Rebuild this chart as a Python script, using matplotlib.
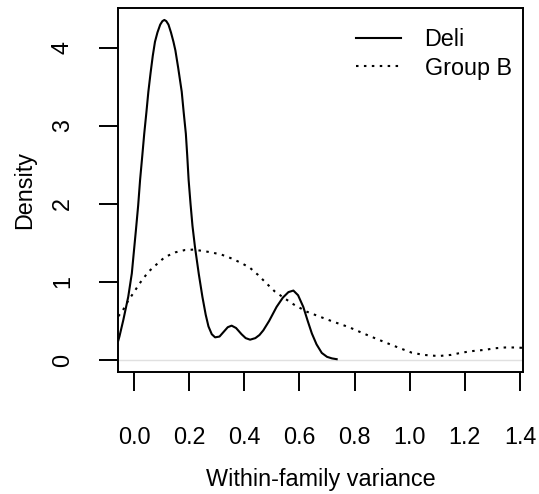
import matplotlib
matplotlib.use("Agg")
import matplotlib.pyplot as plt

plt.rcParams['font.family'] = ['Liberation Sans', 'DejaVu Sans']

# values
deli_x = [-0.057, -0.053, -0.039, -0.021, -0.008, 0.000, 0.007, 0.015, 0.022, 0.030,
          0.037, 0.045, 0.052, 0.060, 0.068, 0.076, 0.085, 0.095, 0.103, 0.110,
          0.117, 0.125, 0.134, 0.143, 0.150, 0.160, 0.173, 0.180, 0.188, 0.193,
          0.198, 0.205, 0.212, 0.221, 0.235, 0.248, 0.260, 0.270, 0.282, 0.294,
          0.310, 0.325, 0.340, 0.354, 0.370, 0.390, 0.405, 0.421, 0.440, 0.455,
          0.469, 0.490, 0.517, 0.540, 0.560, 0.578, 0.595, 0.614, 0.630, 0.645,
          0.662, 0.681, 0.700, 0.718, 0.735]
deli_y = [0.25, 0.30, 0.51, 0.81, 1.11, 1.41, 1.67, 1.98, 2.31, 2.62,
          2.90, 3.18, 3.44, 3.68, 3.90, 4.08, 4.20, 4.30, 4.345, 4.36,
          4.345, 4.30, 4.20, 4.08, 3.97, 3.75, 3.44, 3.18, 2.90, 2.62,
          2.31, 2.00, 1.72, 1.45, 1.10, 0.81, 0.58, 0.43, 0.33, 0.29,
          0.30, 0.36, 0.42, 0.44, 0.41, 0.33, 0.28, 0.26, 0.28, 0.32,
          0.38, 0.50, 0.68, 0.80, 0.87, 0.89, 0.83, 0.68, 0.50, 0.34,
          0.20, 0.09, 0.04, 0.02, 0.01]

groupb_x = [-0.057, -0.040, -0.021, 0.000, 0.020, 0.052, 0.080, 0.112, 0.150, 0.185,
            0.215, 0.245, 0.280, 0.318, 0.355, 0.391, 0.421, 0.450, 0.481, 0.510,
            0.542, 0.580, 0.626, 0.670, 0.723, 0.780, 0.832, 0.880, 0.922, 0.965,
            1.007, 1.050, 1.104, 1.150, 1.189, 1.230, 1.273, 1.310, 1.346, 1.380,
            1.412]
groupb_y = [0.56, 0.64, 0.76, 0.87, 0.98, 1.13, 1.22, 1.32, 1.38, 1.41,
            1.415, 1.40, 1.38, 1.35, 1.30, 1.24, 1.18, 1.09, 0.98, 0.88,
            0.80, 0.71, 0.62, 0.56, 0.49, 0.42, 0.34, 0.27, 0.21, 0.15,
            0.094, 0.065, 0.05, 0.065, 0.094, 0.115, 0.13, 0.15, 0.16, 0.16,
            0.155]

x_ticks = [0.0, 0.2, 0.4, 0.6, 0.8, 1.0, 1.2, 1.4]
y_ticks = [0, 1, 2, 3, 4]

fs = 16.8
fig = plt.figure(figsize=(5.39, 4.94), dpi=100)
ax = fig.add_axes([0.2195, 0.2464, 0.7514, 0.738])

ax.axhline(0, color='#e0e0e0', lw=1, zorder=1)
ax.plot(deli_x, deli_y, color='black', lw=1.5, label='Deli', zorder=3)
ax.plot(groupb_x, groupb_y, color='black', lw=1.5, dashes=(1.2, 2.6),
        label='Group B', zorder=3)

ax.set_xlim(-0.057, 1.412)
ax.set_ylim(-0.158, 4.517)
ax.set_xticks(x_ticks)
ax.set_xticklabels(['%.1f' % v for v in x_ticks])
ax.set_yticks(y_ticks)
ax.set_yticklabels([str(v) for v in y_ticks], rotation=90, va='center')

for s in ax.spines.values():
    s.set_linewidth(1.4)
ax.tick_params(axis='both', length=14, width=1.4, labelsize=fs)
ax.tick_params(axis='x', pad=25)
ax.tick_params(axis='y', pad=18)

ax.set_xlabel('Within-family variance', fontsize=fs, va='center')
ax.xaxis.set_label_coords(0.5, -0.295)
ax.set_ylabel('Density', fontsize=fs, va='center', ha='center')
ax.yaxis.set_label_coords(-0.232, 0.5)

ax.legend(loc='upper right', bbox_to_anchor=(0.971, 0.945), frameon=False,
          fontsize=fs, handlelength=1.95, handletextpad=1.0,
          labelspacing=0.25, borderpad=0, borderaxespad=0)

fig.savefig('out.png', dpi=100)
